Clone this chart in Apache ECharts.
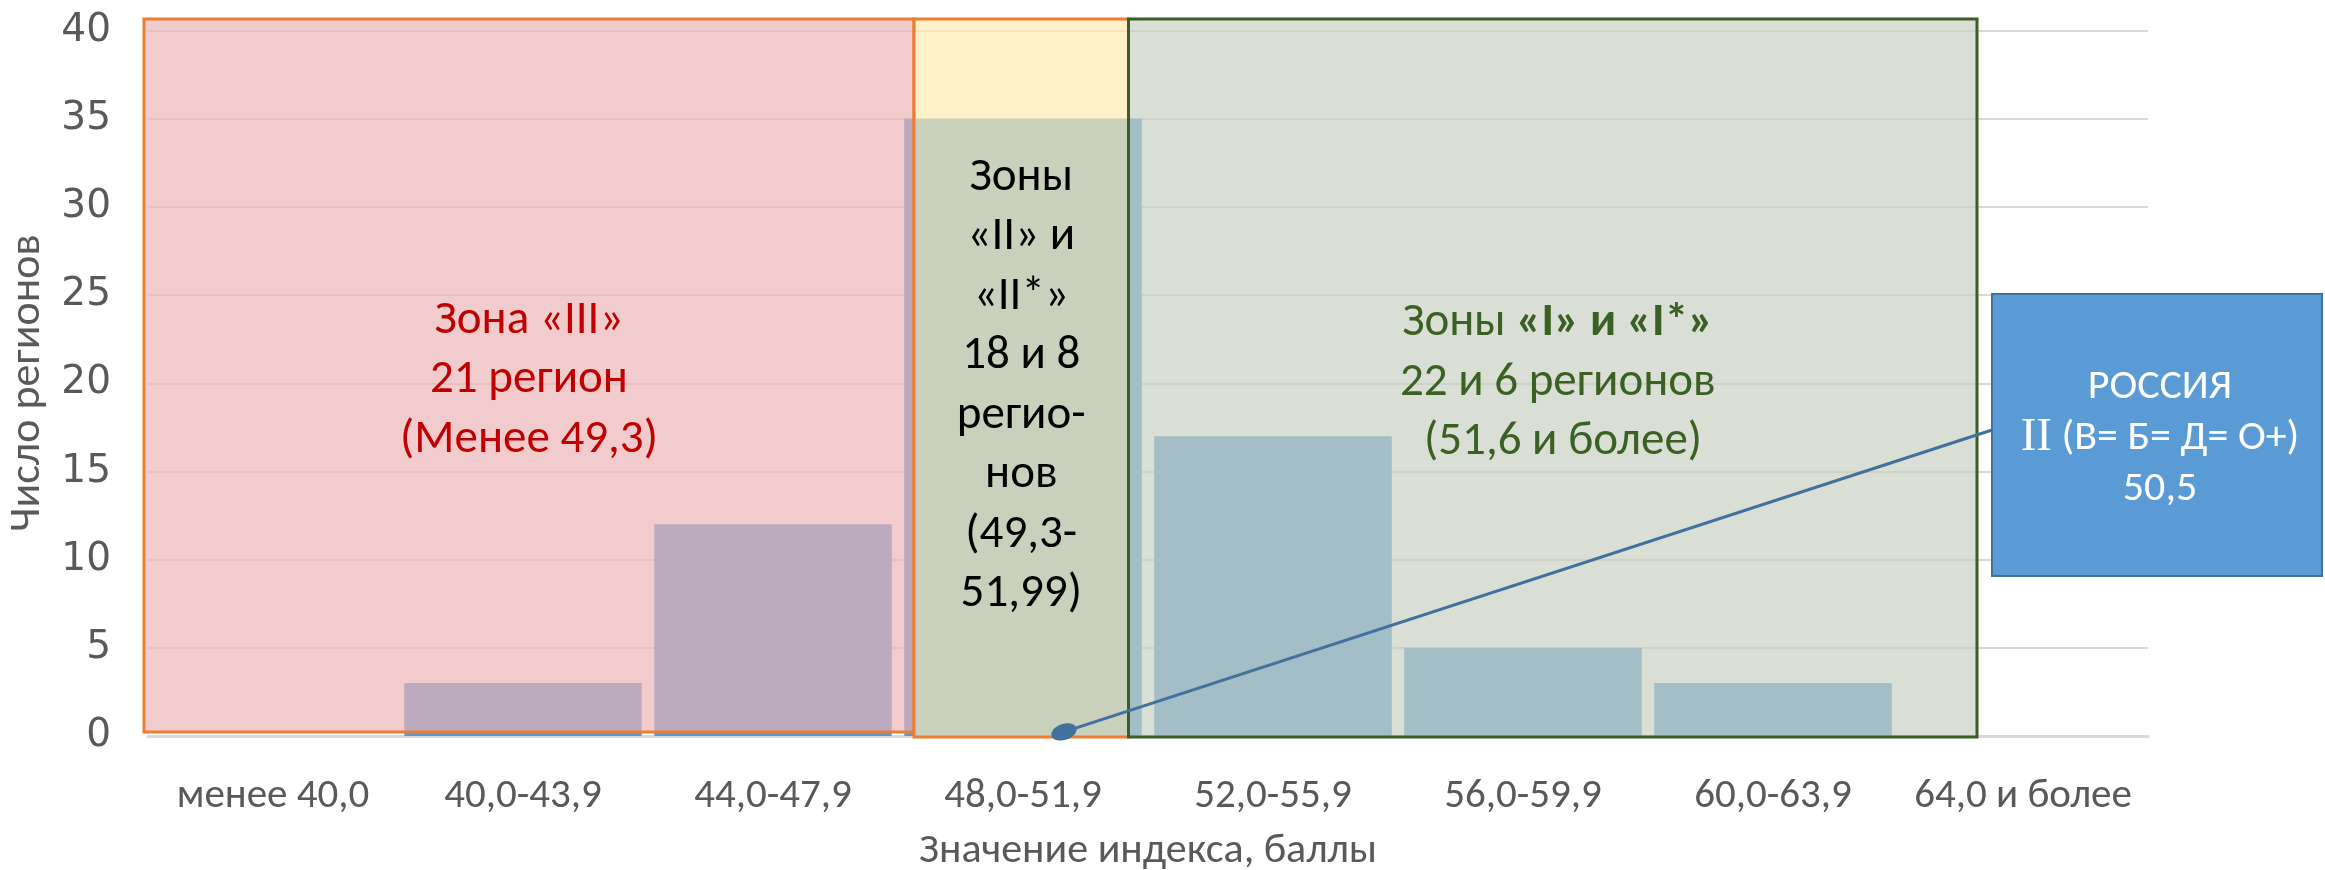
<!DOCTYPE html>
<html><head><meta charset="utf-8">
<script src="https://cdn.jsdelivr.net/npm/echarts@6/dist/echarts.min.js"></script>
<style>html,body{margin:0;padding:0;background:#fff}#c{width:2325px;height:870px}</style>
</head><body><div id="c"></div>
<script>
// ---------- data ----------
const categories = ['менее 40,0','40,0-43,9','44,0-47,9','48,0-51,9','52,0-55,9','56,0-59,9','60,0-63,9','64,0 и более'];
const regionCounts = [0, 3, 12, 35, 17, 5, 3, 0];
const yMin = 0, yMax = 40, yInterval = 5;
const xAxisTitle = 'Значение индекса, баллы';
const yAxisTitle = 'Число регионов';
const zoneTexts = [
  ['Зона «III»', '21 регион', '(Менее 49,3)'],
  ['Зоны', '«II» и', '«II*»', '18 и 8', 'регио-', 'нов', '(49,3-', '51,99)'],
  ['{n|Зоны }{b|«I» и «I*»}', '{n|22 и 6 регионов}', '{n| (51,6 и более)}']
];
const russiaTexts = ['РОССИЯ', '{s|II}{n| (В= Б= Д= О+)}', '50,5'];

// ---------- layout / styles (annotation geometry in axis units) ----------
const FONT = 'Carlito, Calibri, Lato, sans-serif';
const ZONE_FS = 47, ZONE_LH = 59.5;
const zonesLayout = [
  {x0: -0.016, x1: 3.064, y0: 0.23, y1: 40.65, fill: 'rgba(236,178,180,0.67)', stroke: '#ED7D31', color: '#C00000', dx: 0, dy: 5},
  {x0: 3.064, x1: 3.922, y0: -0.06, y1: 40.65, fill: 'rgba(255,236,178,0.67)', stroke: '#ED7D31', color: '#000000', dx: 0, dy: 8},
  {x0: 3.922, x1: 7.316, y0: -0.06, y1: 40.65, fill: 'rgba(198,207,193,0.67)', stroke: '#3B5E25', color: '#3B6023', dx: 5, dy: 5}
];
const calloutLayout = {anchor: [3.664, 0.23], box: {x0: 7.376, x1: 8.696, y0: 9.07, y1: 25.06}, lineEndY: 17.35};

const chart = echarts.init(document.getElementById('c'));

function zoneItem(params, api) {
  const z = zonesLayout[params.dataIndex];
  const p0 = api.coord([z.x0, z.y1]);
  const p1 = api.coord([z.x1, z.y0]);
  const x = p0[0], y = p0[1], w = p1[0] - p0[0], h = p1[1] - p0[1];
  const rich = {
    n: {font: 'normal ' + ZONE_FS + 'px ' + FONT, fill: z.color, lineHeight: ZONE_LH},
    b: {font: 'bold ' + ZONE_FS + 'px ' + FONT, fill: z.color, lineHeight: ZONE_LH}
  };
  return {
    type: 'group',
    children: [
      {type: 'rect', shape: {x: x, y: y, width: w, height: h}, style: {fill: z.fill, stroke: z.stroke, lineWidth: 3}},
      {type: 'text', style: {
        text: zoneTexts[params.dataIndex].join('\n'),
        x: x + w / 2 + z.dx, y: y + h / 2 + z.dy,
        align: 'center', verticalAlign: 'middle', textAlign: 'center', textVerticalAlign: 'middle',
        font: 'normal ' + ZONE_FS + 'px ' + FONT, fill: z.color, lineHeight: ZONE_LH,
        rich: params.dataIndex === 2 ? rich : undefined
      }}
    ]
  };
}

function calloutItem(params, api) {
  const a = api.coord(calloutLayout.anchor);
  const b0 = api.coord([calloutLayout.box.x0, calloutLayout.box.y1]);
  const b1 = api.coord([calloutLayout.box.x1, calloutLayout.box.y0]);
  const e = api.coord([calloutLayout.box.x0, calloutLayout.lineEndY]);
  const ang = Math.atan2(a[1] - e[1], e[0] - a[0]);
  return {
    type: 'group',
    children: [
      {type: 'line', shape: {x1: a[0], y1: a[1], x2: e[0], y2: e[1]}, style: {stroke: '#41719C', lineWidth: 3}},
      {type: 'ellipse', x: a[0], y: a[1], rotation: ang, shape: {cx: 0, cy: 0, rx: 13, ry: 8}, style: {fill: '#41719C'}},
      {type: 'rect', shape: {x: b0[0], y: b0[1], width: b1[0] - b0[0], height: b1[1] - b0[1]}, style: {fill: '#5B9BD5', stroke: '#41719C', lineWidth: 2}},
      {type: 'text', style: {
        text: russiaTexts.join('\n'),
        x: (b0[0] + b1[0]) / 2 + 3, y: (b0[1] + b1[1]) / 2 + 3,
        align: 'center', verticalAlign: 'middle', textAlign: 'center', textVerticalAlign: 'middle',
        font: 'normal 42px ' + FONT, fill: '#FFFFFF', lineHeight: 51,
        rich: {
          s: {font: 'normal 47px "Liberation Serif", "Times New Roman", serif', fill: '#FFFFFF', lineHeight: 51},
          n: {font: 'normal 42px ' + FONT, fill: '#FFFFFF', lineHeight: 51}
        }
      }}
    ]
  };
}

chart.setOption({
  animation: false,
  backgroundColor: '#FFFFFF',
  grid: {left: 148, right: 177, top: 30.5, bottom: 134, containLabel: false, outerBoundsMode: 'none'},
  xAxis: [
    {
      type: 'category', data: categories,
      name: xAxisTitle, nameLocation: 'middle', nameGap: 94,
      nameTextStyle: {fontFamily: FONT, fontSize: 42, color: '#595959'},
      axisLine: {lineStyle: {color: '#D9D9D9', width: 3}},
      axisTick: {show: false},
      axisLabel: {fontFamily: FONT, fontSize: 41, color: '#595959', margin: 40, interval: 0}
    },
    {type: 'value', min: 0, max: 8, show: false}
  ],
  yAxis: {
    type: 'value', min: yMin, max: yMax, interval: yInterval,
    name: yAxisTitle, nameLocation: 'middle', nameGap: 92,
    nameTextStyle: {fontFamily: FONT, fontSize: 44, color: '#595959'},
    axisLine: {show: false}, axisTick: {show: false},
    splitLine: {lineStyle: {color: '#D9D9D9', width: 2}},
    axisLabel: {fontFamily: '"DejaVu Sans", sans-serif', fontSize: 39, color: '#595959', margin: 37}
  },
  series: [
    {
      type: 'bar', data: regionCounts, xAxisIndex: 0, yAxisIndex: 0,
      barCategoryGap: '5%', itemStyle: {color: '#5B9BD5'}, z: 2, silent: true
    },
    {
      type: 'custom', xAxisIndex: 1, yAxisIndex: 0, clip: false, z: 5, silent: true,
      data: zonesLayout.map((z, i) => i), renderItem: zoneItem
    },
    {
      type: 'custom', xAxisIndex: 1, yAxisIndex: 0, clip: false, z: 6, silent: true,
      data: [0], renderItem: calloutItem
    }
  ]
});
</script>
</body></html>
